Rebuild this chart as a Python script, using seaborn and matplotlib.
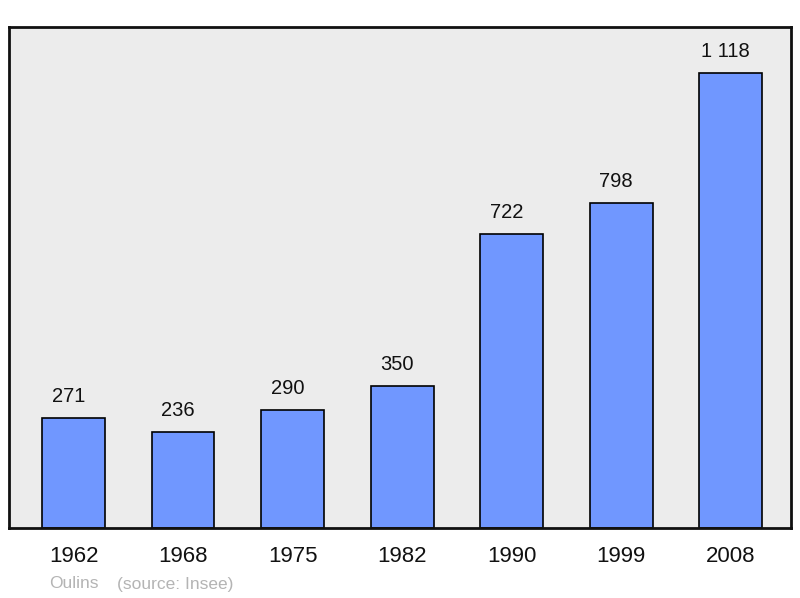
import pandas as pd
from matplotlib import pyplot as plt
import seaborn as sns

years = ["1962", "1968", "1975", "1982", "1990", "1999", "2008"]
population = [271, 236, 290, 350, 722, 798, 1118]
value_labels = ["271", "236", "290", "350", "722", "798", "1 118"]

df = pd.DataFrame({"year": years, "population": population})

sns.set_style("white")
plt.rcParams['font.family'] = ['Liberation Sans', 'DejaVu Sans']

fig = plt.figure(figsize=(8, 5.98), dpi=100)
ax = fig.add_axes([9 / 800, 70 / 598, 782 / 800, 501 / 598])
ax.set_facecolor('#ececec')

sns.barplot(data=df, x="year", y="population", color='#7097ff', saturation=1,
            width=0.575, edgecolor='black', linewidth=1.2, ax=ax, zorder=2)

for i, (v, lab) in enumerate(zip(population, value_labels)):
    ax.annotate(lab, (i, v), xytext=(-3.6, 8.5), textcoords='offset points',
                ha='center', va='bottom', fontsize=14.5, color='#111111')

ax.set_xlim(-0.589, 6.552)
ax.set_ylim(0, 1231)
ax.set_yticks([])
ax.set_xlabel("")
ax.set_ylabel("")
ax.tick_params(axis='x', length=0, pad=13, labelsize=16, labelcolor='#111111')
for s in ax.spines.values():
    s.set_linewidth(2)
    s.set_color('#111111')
    s.set_joinstyle('round')

fig.text(49 / 800, 1 - 584 / 598, "Oulins", color='#b4b4b4', fontsize=12.5, va='center')
fig.text(117 / 800, 1 - 584 / 598, "(source: Insee)", color='#b4b4b4', fontsize=12.5, va='center')

fig.savefig("out.png", dpi=100)
